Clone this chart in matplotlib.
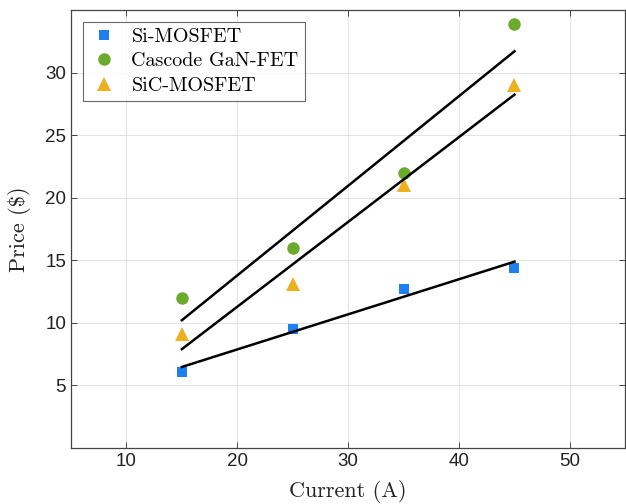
import numpy as np
import matplotlib
matplotlib.use("Agg")
import matplotlib.pyplot as plt

current = [15, 25, 35, 45]
si_mosfet = [6.1, 9.55, 12.7, 14.4]
gan_fet = [12.0, 16.0, 21.95, 33.9]
sic_mosfet = [9.1, 13.1, 21.05, 29.05]
series_names = ["Si-MOSFET", "Cascode GaN-FET", "SiC-MOSFET"]
x_ticks = [10, 20, 30, 40, 50]
y_ticks = [5, 10, 15, 20, 25, 30]

fig = plt.figure(figsize=(6.26, 5.04), dpi=100)
ax = fig.add_axes([0.1134, 0.111, 0.8866 - 0.001, 0.869])

serif = {"family": "cmr10", "size": 16}

specs = [
    (si_mosfet, "s", "#1E7FF0", 7.5),
    (gan_fet, "o", "#6CAA2E", 9),
    (sic_mosfet, "^", "#EDB120", 10),
]
x = np.array(current, dtype=float)
handles = []
for (vals, mk, col, ms), name in zip(specs, series_names):
    h, = ax.plot(x, vals, linestyle="none", marker=mk, color=col,
                 markersize=ms, markeredgewidth=0, label=name, zorder=3)
    handles.append(h)
for vals, _, _, _ in specs:
    p = np.polyfit(x, np.array(vals, dtype=float), 1)
    xf = np.array([x.min(), x.max()])
    ax.plot(xf, np.polyval(p, xf), color="black", linewidth=1.8, zorder=4)

ax.set_xlim(5, 55)
ax.set_ylim(0, 35)
ax.set_xticks(x_ticks)
ax.set_yticks(y_ticks)
ax.grid(True, color="#e3e3e3", linewidth=0.7)
ax.set_axisbelow(True)
ax.tick_params(direction="in", top=True, right=True, length=4,
               width=0.7, color="#444444", labelsize=13.5, labelcolor="#222222")
for lab in ax.get_xticklabels() + ax.get_yticklabels():
    lab.set_family("Liberation Sans")
for s in ax.spines.values():
    s.set_color("#444444")
    s.set_linewidth(0.9)

ax.set_xlabel("Current (A)", fontdict=serif, color="#222222", labelpad=7)
ax.set_ylabel("Price ($)", fontdict=serif, color="#222222", labelpad=10)

leg = ax.legend(handles=handles, loc="upper left", prop={"family": "cmr10", "size": 14.5},
                frameon=True, fancybox=False, edgecolor="#444444",
                borderaxespad=0.6, handletextpad=0.6, labelspacing=0.3,
                borderpad=0.3, handlelength=1.5)
leg.get_frame().set_linewidth(0.8)

fig.savefig("out.png", dpi=100)
